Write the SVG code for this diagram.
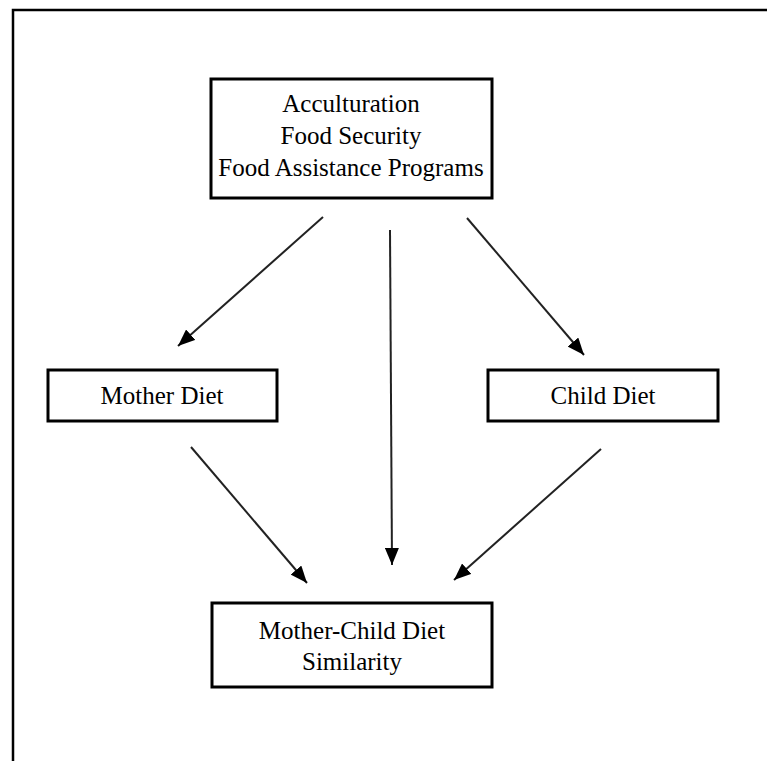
<svg xmlns="http://www.w3.org/2000/svg" width="767" height="761" viewBox="0 0 767 761">
<style>
.box{fill:#fff;stroke:#000;stroke-width:3}
.t{font-family:"Liberation Serif","Times New Roman",serif;font-size:25px;fill:#000;text-anchor:middle}
.c{stroke:#222;stroke-width:2;fill:none;marker-end:url(#ah)}
</style>
<defs>
<marker id="ah" markerUnits="userSpaceOnUse" markerWidth="18" markerHeight="14" refX="17" refY="7" orient="auto">
<path d="M0,0 L17,7 L0,14 z" fill="#000"/>
</marker>
</defs>
<rect width="767" height="761" fill="#fff"/>
<path d="M13,761 V10 H767" fill="none" stroke="#000" stroke-width="2.5"/>
<g id="connectors">
<line class="c" x1="323" y1="217" x2="178" y2="346"/>
<line class="c" x1="390" y1="230" x2="392" y2="565"/>
<line class="c" x1="467" y1="218" x2="584" y2="355"/>
<line class="c" x1="191" y1="447" x2="307" y2="583"/>
<line class="c" x1="601" y1="449" x2="454" y2="580"/>
</g>
<g id="factors">
<rect class="box" x="211" y="79" width="281" height="119"/>
<text class="t" x="351" y="112">Acculturation</text>
<text class="t" x="351" y="144">Food Security</text>
<text class="t" x="351" y="176">Food Assistance Programs</text>
</g>
<g id="mother">
<rect class="box" x="48" y="370" width="229" height="51"/>
<text class="t" x="162" y="404">Mother Diet</text>
</g>
<g id="child">
<rect class="box" x="488" y="370" width="230" height="51"/>
<text class="t" x="603" y="404">Child Diet</text>
</g>
<g id="similarity">
<rect class="box" x="212" y="603" width="280" height="84"/>
<text class="t" x="352" y="639">Mother-Child Diet</text>
<text class="t" x="352" y="670">Similarity</text>
</g>
</svg>
